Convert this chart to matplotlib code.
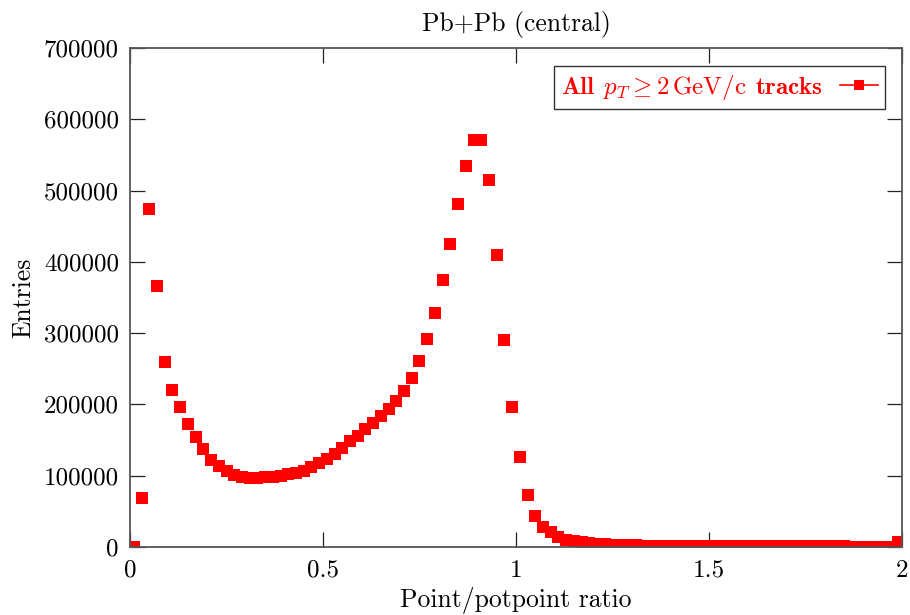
import matplotlib
matplotlib.use("Agg")
import matplotlib.pyplot as plt
from matplotlib.lines import Line2D
import numpy as np

plt.rcParams["font.family"] = ["cmr10", "DejaVu Serif"]
plt.rcParams["mathtext.fontset"] = "cm"
plt.rcParams["axes.formatter.use_mathtext"] = True

# 100 bins of width 0.02 between 0 and 2
bin_centers = np.arange(0.01, 2.0, 0.02)
entries = [
    0, 69000, 474000, 366000, 260000, 220000, 197000, 173000, 154000, 137000,
    122000, 113500, 106600, 100600, 98200, 97200, 96800, 97500, 98500, 99600,
    102000, 104500, 106600, 112000, 117800, 123400, 130500, 139000, 148000, 156000,
    165000, 174000, 184000, 193600, 205000, 219000, 237500, 261000, 292000, 328700,
    374500, 425000, 481000, 534500, 571000, 571000, 515000, 409600, 290400, 196800,
    126700, 73200, 43500, 28500, 20500, 14500, 10000, 8400, 7000, 6000,
    4700, 4500, 3000, 2800, 2700, 2500, 2000, 1900, 1800, 1800,
    1700, 1700, 1600, 1600, 1600, 1500, 1500, 1500, 1500, 1400,
    1400, 1400, 1400, 1400, 1300, 1300, 1300, 1300, 1300, 1200,
    1200, 800, 800, 700, 700, 700, 700, 600, 600, 7500,
]
x_ticks = [0, 0.5, 1, 1.5, 2]
x_tick_labels = ["0", "0.5", "1", "1.5", "2"]
y_ticks = [0, 100000, 200000, 300000, 400000, 500000, 600000, 700000]

fig = plt.figure(figsize=(9.1, 6.15), dpi=100)
ax = fig.add_axes([130 / 910, 1 - 547 / 615, 772 / 910, 499 / 615])

ax.plot(bin_centers, entries, linestyle="none", marker="s", markersize=8.6,
        markeredgewidth=0, color="#ff0000", clip_on=True)

ax.set_xlim(0, 2)
ax.set_ylim(0, 700000)
ax.set_xticks(x_ticks)
ax.set_xticklabels(x_tick_labels)
ax.set_yticks(y_ticks)
ax.set_yticklabels([str(v) for v in y_ticks])
ax.tick_params(direction="in", length=10.5, width=0.9, color="#222222",
               top=True, right=True, labelsize=18, pad=8)
ax.tick_params(axis="x", pad=9)
for s in ax.spines.values():
    s.set_color("#555555")
    s.set_linewidth(1.3)

ax.set_title("Pb+Pb (central)", fontsize=18.5, pad=12)
ax.set_xlabel("Point/potpoint ratio", fontsize=18.5, labelpad=4)
ax.set_ylabel("Entries", fontsize=18.5, labelpad=6)

handle = Line2D([], [], color="#ff0000", linewidth=1.2, marker="s",
                markersize=7.5, markeredgewidth=0)
leg = ax.legend([handle],
                [r"$\mathbf{All}\;\, p_T \geq 2\,\mathrm{GeV/c}\;\, \mathbf{tracks}$"],
                loc="upper right", markerfirst=False, fontsize=18,
                handlelength=1.5, borderaxespad=0.7, fancybox=False,
                framealpha=1, edgecolor="#333333", borderpad=0.28,
                handletextpad=0.7)
leg.get_frame().set_linewidth(1.0)
for t in leg.get_texts():
    t.set_color("#ff0000")

fig.savefig("out.png", dpi=100)
